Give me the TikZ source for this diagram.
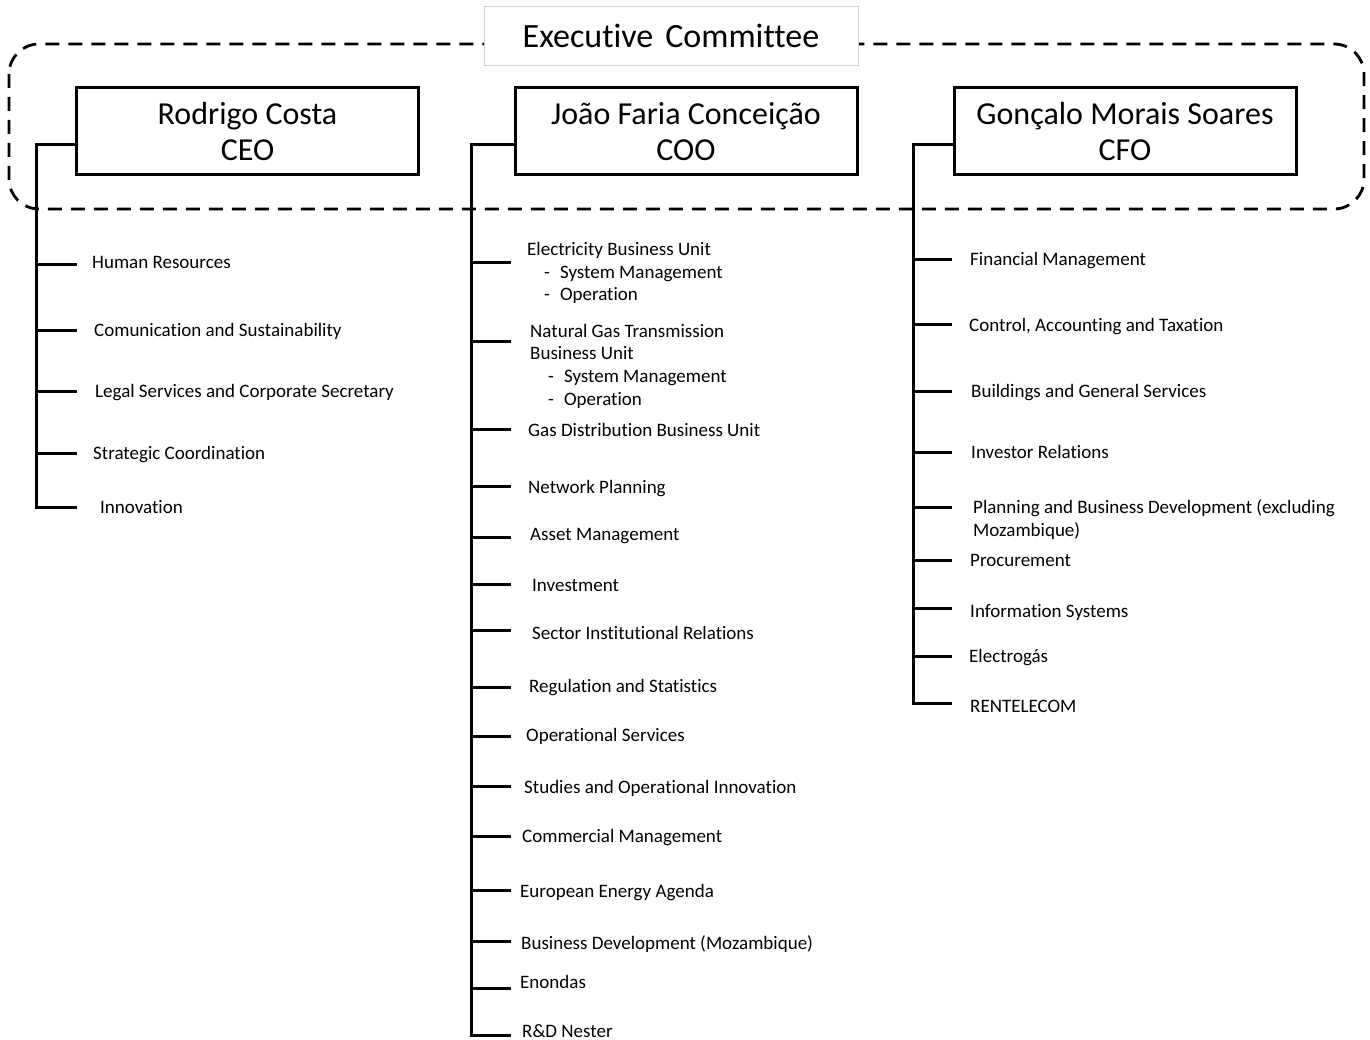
\documentclass[tikz,border=0pt]{standalone}
\usepackage{fontspec}
\setmainfont{Carlito}[Ligatures=NoCommon]
\begin{document}
\begin{tikzpicture}[x=1pt,y=-1pt,
  headbox/.style={draw=black,line width=3pt,minimum width=342pt,minimum height=87pt,align=center,inner sep=0pt,font=\fontsize{32}{36}\selectfont},
  execbox/.style={draw=black!18,line width=0.9pt,fill=white,minimum width=374pt,minimum height=59pt,inner sep=0pt,font=\fontsize{34}{38}\selectfont},
  grp/.style={line width=2.8pt,dash pattern=on 14pt off 9pt},
  conn/.style={line width=3pt,line join=miter},
  item/.style={anchor=base west,yshift=-6pt,inner sep=0pt,align=left,font=\fontsize{19}{22.6}\selectfont}]
\path[use as bounding box] (0,0) rectangle (1370,1040);
\fill[white] (0,0) rectangle (1370,1040);

% group outline
\draw[grp,rounded corners=30pt] (9,44) rectangle (1364,209);
\node[execbox] (exec) at (671,36) {Executive\hspace{12pt}Committee};

% heads
\node[headbox] (ceo) at (247.5,131.5) {Rodrigo Costa\\CEO};
\node[headbox] (coo) at (686,131.5) {João Faria Conceição\\COO};
\node[headbox] (cfo) at (1125,131.5) {Gonçalo Morais Soares\\CFO};

% CEO items
\node[item] (a1) at (92,263) {Human Resources};
\node[item] (a2) at (94,331) {Comunication and Sustainability};
\node[item] (a3) at (95,391) {Legal Services and Corporate Secretary};
\node[item] (a4) at (93,453) {Strategic Coordination};
\node[item] (a5) at (100,507) {Innovation};

% COO items
\node[item] (b1) at (527,295) {Electricity Business Unit\\\hspace*{17pt}-\hspace*{10pt}System Management\\\hspace*{17pt}-\hspace*{10pt}Operation};
\node[item] (b2) at (530,399) {Natural Gas Transmission\\Business Unit\\\hspace*{18pt}-\hspace*{10pt}System Management\\\hspace*{18pt}-\hspace*{10pt}Operation};
\node[item] (b3) at (528,430) {Gas Distribution Business Unit};
\node[item] (b4) at (528,487) {Network Planning};
\node[item] (b5) at (530,534) {Asset Management};
\node[item] (b6) at (532,585) {Investment};
\node[item] (b7) at (532,633) {Sector Institutional Relations};
\node[item] (b8) at (529,686) {Regulation and Statistics};
\node[item] (b9) at (526,735) {Operational Services};
\node[item] (b10) at (524,787) {Studies and Operational Innovation};
\node[item] (b11) at (522,836) {Commercial Management};
\node[item] (b12) at (520,891) {European Energy Agenda};
\node[item] (b13) at (521,943) {Business Development (Mozambique)};
\node[item] (b14) at (520,982) {Enondas};
\node[item] (b15) at (522,1031) {R\&D Nester};

% CFO items
\node[item] (c1) at (970,260) {Financial Management};
\node[item] (c2) at (969,326) {Control, Accounting and Taxation};
\node[item] (c3) at (971,391) {Buildings and General Services};
\node[item] (c4) at (971,452) {Investor Relations};
\node[item] (c5) at (973,530) {Planning and Business Development (excluding\\Mozambique)};
\node[item] (c6) at (970,560) {Procurement};
\node[item] (c7) at (970,611) {Information Systems};
\node[item] (c8) at (969,656) {Electrogás};
\node[item] (c9) at (970,706) {RENTELECOM};

% stub end coordinates
\foreach \n/\y in {1/265,2/331,3/391,4/453,5/507}
  \coordinate (ae\n) at (77,\y);
\foreach \n/\y in {1/263,2/342,3/429,4/486,5/537,6/584,7/630,8/687,9/736,10/786,11/836,12/890,13/941,14/988,15/1035}
  \coordinate (be\n) at (511,\y);
\foreach \n/\y in {1/260,2/325,3/391,4/452,5/507,6/560,7/608,8/656,9/703}
  \coordinate (ce\n) at (952,\y);
\coordinate (at) at (36,0);
\coordinate (bt) at (471,0);
\coordinate (ct) at (913,0);

% trunks
\draw[conn] ([yshift=-13.5pt]ceo.west) -| (at |- ae5) -- (ae5);
\draw[conn] ([yshift=-13.5pt]coo.west) -| (bt |- be15) -- (be15);
\draw[conn] ([yshift=-13.5pt]cfo.west) -| (ct |- ce9) -- (ce9);
\foreach \n in {1,...,4} \draw[conn] (at |- ae\n) -- (ae\n);
\foreach \n in {1,...,14} \draw[conn] (bt |- be\n) -- (be\n);
\foreach \n in {1,...,8} \draw[conn] (ct |- ce\n) -- (ce\n);
\end{tikzpicture}
\end{document}
